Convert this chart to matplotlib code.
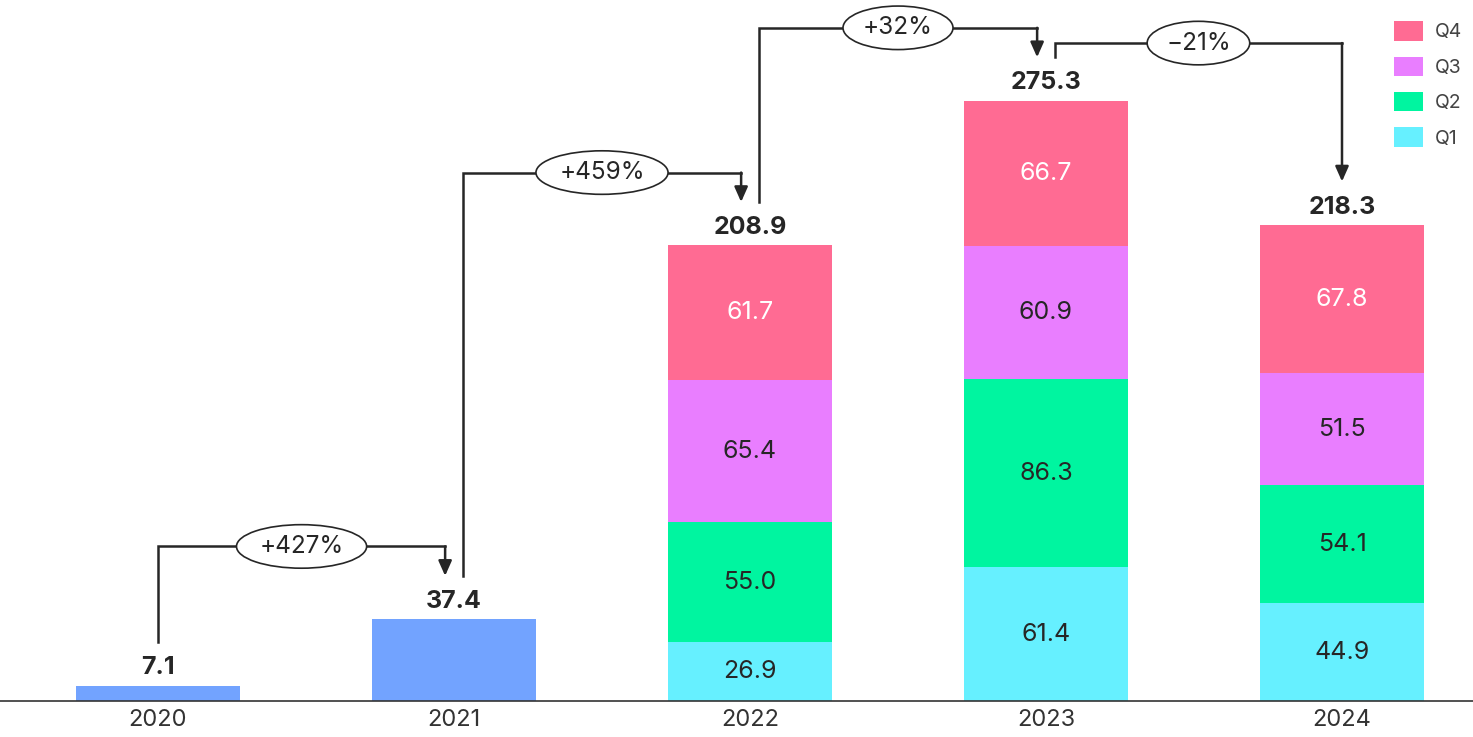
import matplotlib.pyplot as plt
import numpy as np

plt.rcParams['font.family'] = ['Inter', 'DejaVu Sans']

years = ['2020', '2021', '2022', '2023', '2024']
# annual totals for the years without a quarterly split
annual_only = [7.1, 37.4, 0, 0, 0]
quarters = ['Q1', 'Q2', 'Q3', 'Q4']
q1 = [0, 0, 26.9, 61.4, 44.9]
q2 = [0, 0, 55.0, 86.3, 54.1]
q3 = [0, 0, 65.4, 60.9, 51.5]
q4 = [0, 0, 61.7, 66.7, 67.8]
totals = [7.1, 37.4, 208.9, 275.3, 218.3]

q_colors = ['#66F0FF', '#00F5A0', '#E97EFF', '#FF6B93']
annual_color = '#72A3FF'
ink = '#262626'

fig = plt.figure(figsize=(14.73, 7.37), dpi=100)
ax = fig.add_axes([0, 36 / 737, 1, 701 / 737])

x = np.arange(len(years))
w = 0.557

ax.bar(x, annual_only, width=w, color=annual_color, zorder=2)
bottom = np.zeros(len(years))
for name, vals, col in zip(quarters, [q1, q2, q3, q4], q_colors):
    vals = np.array(vals)
    ax.bar(x, vals, width=w, bottom=bottom, color=col, label=name, zorder=2)
    for i, v in enumerate(vals):
        if v > 0:
            tc = 'white' if name == 'Q4' else ink
            ax.text(x[i], bottom[i] + v / 2, f'{v:.1f}', ha='center', va='center',
                    fontsize=18, color=tc, zorder=3)
    bottom += vals

# totals above the bars
for i, t in enumerate(totals):
    ax.text(x[i], t + 3, f'{t:.1f}', ha='center', va='bottom', fontsize=18,
            fontweight='bold', color=ink, zorder=3)

# growth connectors between consecutive years
gap = 20      # distance between bar top and connector end
rise = 33.5   # height of the connector above the taller bar
shift = 0.03  # side offset where a bar has both an in and out connector
n = len(years)
for i in range(n - 1):
    x0 = x[i] + (shift if i > 0 else 0)
    x1 = x[i + 1] - (shift if i + 1 < n - 1 else 0)
    y0 = totals[i] + gap
    y1 = totals[i + 1] + gap
    level = max(totals[i], totals[i + 1]) + rise
    if i == n - 2:
        level -= 7
    ax.plot([x0, x0, x1], [y0, level, level], color=ink, lw=1.8,
            solid_joinstyle='miter', zorder=4)
    ax.annotate('', xy=(x1, y1), xytext=(x1, level),
                arrowprops=dict(arrowstyle='-|>,head_length=0.9,head_width=0.4',
                                color=ink, lw=1.8, shrinkA=0, shrinkB=0),
                zorder=4)
    pct = round((totals[i + 1] / totals[i] - 1) * 100)
    lbl = f'+{pct}%' if pct >= 0 else f'\u2212{abs(pct)}%'
    ax.text((x0 + x1) / 2, level, lbl, ha='center', va='center', fontsize=17.5,
            color=ink, zorder=5,
            bbox=dict(boxstyle='ellipse,pad=0.16', fc='white', ec=ink, lw=1.2))

ax.set_xlim(-158 / 296, (1473 - 158) / 296)
ax.set_ylim(0, 701 / 2.18)

for s in ['top', 'right', 'left']:
    ax.spines[s].set_visible(False)
ax.spines['bottom'].set_color('#333333')
ax.spines['bottom'].set_linewidth(1.2)
ax.set_yticks([])
ax.set_xticks(x)
ax.set_xticklabels(years, fontsize=17, color='#333333')
ax.tick_params(axis='x', length=0, pad=6)

handles, labels = ax.get_legend_handles_labels()
leg = ax.legend(handles[::-1], labels[::-1], loc='upper right',
                bbox_to_anchor=(1.0, 0.985), frameon=False, fontsize=14,
                handlelength=1.5, handleheight=1.15, labelspacing=0.78,
                handletextpad=0.6, borderaxespad=0.15)
for t in leg.get_texts():
    t.set_color('#444444')

fig.savefig('out.png', dpi=100)
